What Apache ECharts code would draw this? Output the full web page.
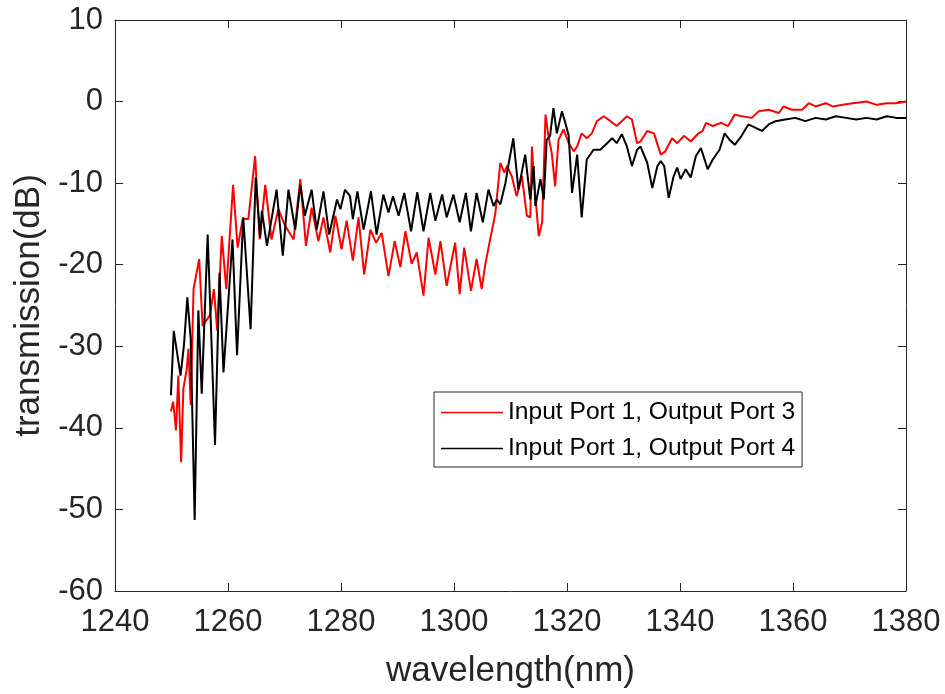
<!DOCTYPE html>
<html>
<head>
<meta charset="utf-8">
<script src="https://cdn.jsdelivr.net/npm/echarts@6/dist/echarts.min.js"></script>
<style>
  html, body { margin: 0; padding: 0; background: #fff; }
  #chart { width: 945px; height: 694px; }
</style>
</head>
<body>
<div id="chart"></div>
<script>
// ---- Data ----
const seriesNames = ['Input Port 1, Output Port 3', 'Input Port 1, Output Port 4'];

// Input Port 1 -> Output Port 3 (red)
const wavelength3 = [
  1249.9,1250.3,1250.8,1251.2,1251.7,1252.1,1252.7,1253.0,1253.4,1253.9,
  1254.9,1255.5,1256.8,1257.5,1258.1,1258.9,1259.7,1260.9,1261.7,1262.6,
  1263.6,1264.8,1265.6,1266.6,1267.7,1268.9,1270.1,1271.6,1272.8,1273.8,
  1274.8,1276.0,1276.9,1278.1,1279.0,1280.1,1281.0,1282.1,1283.1,1284.1,
  1285.2,1286.2,1287.2,1288.4,1289.5,1290.5,1291.4,1292.5,1293.4,1294.6,
  1295.5,1296.7,1297.6,1298.7,1300.2,1301.0,1301.8,1303.0,1304.0,1304.9,
  1305.5,1306.4,1307.3,1308.2,1308.9,1309.4,1310.2,1311.1,1312.0,1312.9,
  1313.5,1313.8,1314.1,1315.0,1315.6,1316.2,1316.7,1317.3,1317.9,1318.5,
  1319.4,1320.3,1321.2,1321.8,1322.6,1323.5,1324.4,1325.3,1326.5,1327.7,
  1328.8,1329.7,1330.6,1331.5,1332.4,1333.0,1334.2,1335.4,1336.6,1337.4,
  1338.6,1339.5,1340.7,1341.9,1343.1,1344.0,1344.6,1345.8,1347.3,1348.5,
  1349.7,1350.9,1352.7,1353.9,1355.7,1357.5,1358.3,1359.8,1361.6,1362.8,
  1364.0,1365.8,1367.0,1368.8,1370.6,1373.0,1374.8,1376.6,1378.3,1380.0
];
const transmission3 = [
  -38.0,-36.8,-40.3,-33.6,-44.2,-35.2,-32.8,-30.3,-37.2,-23.0,
  -19.3,-27.5,-26.2,-23.0,-28.1,-16.5,-23.0,-10.2,-17.9,-14.4,
  -14.4,-6.7,-16.9,-10.2,-16.9,-13.2,-15.2,-16.9,-9.5,-17.7,
  -13.0,-17.1,-14.2,-18.5,-14.0,-18.1,-14.6,-19.5,-14.2,-21.2,
  -15.7,-17.3,-16.1,-21.4,-17.1,-20.3,-15.9,-19.9,-18.5,-23.8,
  -16.7,-21.2,-17.1,-22.6,-17.3,-23.6,-17.9,-23.2,-19.3,-23.0,
  -20.1,-16.9,-13.8,-7.5,-8.7,-7.9,-9.1,-11.6,-9.1,-14.0,
  -14.2,-5.5,-9.1,-16.5,-14.8,-1.6,-4.2,-6.3,-10.4,-4.7,
  -3.4,-5.1,-6.1,-5.5,-3.9,-4.5,-3.9,-2.4,-1.8,-2.4,
  -3.0,-2.4,-1.8,-2.2,-5.1,-4.9,-3.6,-3.9,-6.5,-6.1,
  -4.5,-5.1,-4.2,-4.9,-4.0,-3.6,-2.6,-3.0,-2.6,-3.0,
  -1.6,-1.8,-2.0,-1.2,-1.0,-1.4,-0.6,-1.0,-1.0,-0.2,
  -0.6,-0.2,-0.6,-0.4,-0.2,0.0,-0.4,-0.2,-0.2,0.0
];

// Input Port 1 -> Output Port 4 (black)
const wavelength4 = [
  1249.9,1250.4,1251.6,1252.2,1252.8,1253.4,1254.1,1254.75,1255.35,1256.4,
  1257.1,1257.7,1258.5,1259.2,1260.8,1261.6,1262.7,1264.0,1264.9,1265.7,
  1266.0,1266.9,1268.6,1269.7,1270.7,1271.9,1272.8,1273.6,1274.8,1275.7,
  1276.9,1277.9,1279.3,1279.9,1280.7,1281.6,1282.1,1282.9,1284.0,1285.3,
  1286.3,1287.5,1288.4,1289.2,1290.2,1291.2,1292.4,1293.5,1294.6,1295.8,
  1296.7,1297.9,1298.7,1299.9,1301.0,1302.1,1303.0,1304.0,1305.1,1306.1,
  1307.0,1307.6,1308.2,1309.1,1309.7,1310.5,1311.4,1312.6,1313.5,1314.1,
  1314.4,1315.3,1315.9,1316.4,1317.0,1317.6,1318.2,1319.1,1319.7,1320.3,
  1320.9,1321.8,1322.6,1323.5,1324.7,1325.9,1327.1,1328.0,1328.8,1329.7,
  1330.6,1331.5,1332.4,1333.0,1334.2,1335.1,1336.0,1336.6,1337.2,1338.0,
  1338.9,1339.5,1340.1,1341.0,1341.9,1342.8,1343.7,1344.9,1345.8,1347.0,
  1347.9,1348.8,1349.7,1350.9,1352.1,1353.3,1354.5,1355.7,1356.9,1358.6,
  1360.4,1362.2,1364.0,1365.8,1367.6,1369.4,1371.2,1373.0,1374.8,1376.6,
  1378.3,1380.0
];
const transmission4 = [
  -36.0,-28.1,-33.6,-29.9,-24.0,-29.1,-51.3,-25.6,-35.8,-16.3,
  -29.9,-42.1,-21.0,-33.2,-16.9,-31.1,-14.2,-27.9,-9.3,-16.7,
  -13.4,-17.7,-10.8,-18.9,-10.8,-15.7,-10.2,-14.0,-10.8,-15.7,
  -11.0,-16.3,-12.0,-13.2,-10.8,-11.6,-14.4,-11.0,-15.7,-11.0,
  -16.3,-11.4,-13.6,-11.6,-14.0,-11.2,-15.9,-11.1,-15.9,-11.2,
  -14.6,-11.4,-14.2,-11.4,-14.8,-11.2,-15.9,-11.2,-14.8,-10.8,
  -12.8,-12.0,-12.6,-10.0,-7.5,-4.5,-10.8,-6.5,-12.0,-7.9,
  -12.8,-9.5,-12.0,-4.7,-4.2,-0.8,-3.9,-1.2,-2.6,-4.2,
  -11.2,-6.5,-14.2,-7.1,-5.9,-5.9,-5.1,-4.5,-5.1,-4.0,
  -5.5,-7.9,-5.9,-5.5,-7.5,-10.6,-7.9,-7.3,-7.9,-11.8,
  -9.1,-8.1,-9.5,-8.3,-9.3,-6.7,-5.7,-8.3,-7.1,-5.9,
  -3.9,-4.7,-5.3,-4.2,-2.8,-3.2,-3.6,-2.8,-2.4,-2.2,
  -2.0,-2.4,-2.0,-2.2,-1.8,-2.0,-2.2,-2.0,-2.2,-1.8,
  -2.0,-2.0
];

// Axis ranges / ticks
const xMin = 1240, xMax = 1380, xStep = 20;
const yMin = -60, yMax = 10, yStep = 10;

// ---- Chart ----
const FONT = "'Liberation Sans', Arial, Helvetica, sans-serif";
const AX = '#262626';

function pairs(xs, ys) { return xs.map((x, i) => [x, ys[i]]); }

const chart = echarts.init(document.getElementById('chart'), null, { renderer: 'canvas' });

const hiddenAxisCommon = {
  axisLine: { show: true, onZero: false, lineStyle: { color: AX, width: 1 } },
  axisTick: { show: true, inside: true, length: 8, lineStyle: { color: AX, width: 1 } },
  axisLabel: { show: false },
  splitLine: { show: false }
};

const option = {
  animation: false,
  backgroundColor: '#ffffff',
  grid: { left: 115, top: 20, width: 791, height: 572, containLabel: false },
  xAxis: [
    {
      type: 'value', min: xMin, max: xMax, interval: xStep, position: 'bottom',
      name: 'wavelength(nm)', nameLocation: 'middle', nameGap: 63,
      nameTextStyle: { fontSize: 35, color: AX, fontFamily: FONT },
      axisLine: { show: true, onZero: false, lineStyle: { color: AX, width: 1 } },
      axisTick: { show: true, inside: true, length: 8, lineStyle: { color: AX, width: 1 } },
      axisLabel: { fontSize: 31, color: AX, margin: 16, fontFamily: FONT,
                   formatter: function (v) { return String(v); } },
      splitLine: { show: false }
    },
    Object.assign({ type: 'value', min: xMin, max: xMax, interval: xStep, position: 'top' }, hiddenAxisCommon)
  ],
  yAxis: [
    {
      type: 'value', min: yMin, max: yMax, interval: yStep, position: 'left',
      name: 'transmission(dB)', nameLocation: 'middle', nameGap: 66,
      nameTextStyle: { fontSize: 35, color: AX, fontFamily: FONT },
      axisLine: { show: true, onZero: false, lineStyle: { color: AX, width: 1 } },
      axisTick: { show: true, inside: true, length: 8, lineStyle: { color: AX, width: 1 } },
      axisLabel: { fontSize: 31, color: AX, margin: 12, fontFamily: FONT,
                   formatter: function (v) { return String(v); } },
      splitLine: { show: false }
    },
    Object.assign({ type: 'value', min: yMin, max: yMax, interval: yStep, position: 'right' }, hiddenAxisCommon)
  ],
  legend: {
    orient: 'vertical',
    left: 434, top: 392,
    padding: [8, 7, 6, 7],
    itemGap: 11,
    itemWidth: 62, itemHeight: 1.5,
    icon: 'rect',
    backgroundColor: '#ffffff',
    borderColor: AX, borderWidth: 1, borderRadius: 0,
    selectedMode: false,
    textStyle: { fontSize: 24.6, color: '#000', fontFamily: FONT },
    data: [
      { name: seriesNames[0], itemStyle: { color: '#ff0000' } },
      { name: seriesNames[1], itemStyle: { color: '#000000' } }
    ]
  },
  series: [
    {
      name: seriesNames[0], type: 'line', xAxisIndex: 0, yAxisIndex: 0,
      data: pairs(wavelength3, transmission3),
      showSymbol: false, symbol: 'none', smooth: false,
      lineStyle: { color: '#ff0000', width: 2 },
      itemStyle: { color: '#ff0000' },
      z: 2
    },
    {
      name: seriesNames[1], type: 'line', xAxisIndex: 0, yAxisIndex: 0,
      data: pairs(wavelength4, transmission4),
      showSymbol: false, symbol: 'none', smooth: false,
      lineStyle: { color: '#000000', width: 2 },
      itemStyle: { color: '#000000' },
      z: 3
    }
  ]
};

chart.setOption(option);
</script>
</body>
</html>
